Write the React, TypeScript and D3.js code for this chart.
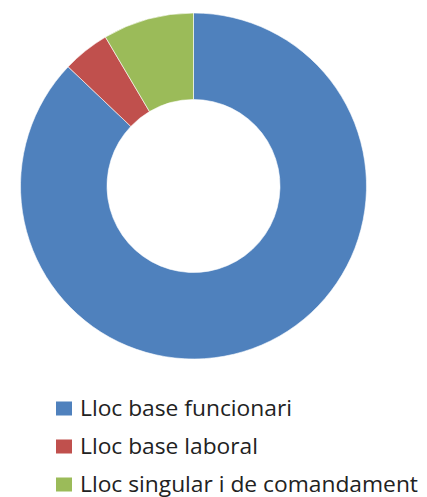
import { useEffect, useRef } from 'react';
import * as d3 from 'd3';

const categories = ['Lloc base funcionari', 'Lloc base laboral', 'Lloc singular i de comandament'];
const values = [87.1, 4.4, 8.5];
const colors = ['#4F81BD', '#C0504D', '#9BBB59'];
const labelWidths = [212, 178, 338];

function DonutChart() {
  const svgRef = useRef<SVGSVGElement>(null);

  useEffect(() => {
    const width = 427;
    const height = 497;
    const cx = 193.5;
    const cy = 186;
    const outer = 173;
    const inner = 86.5;

    const svg = d3.select(svgRef.current)
      .attr('width', width)
      .attr('height', height);

    svg.selectAll('*').remove();

    const pie = d3.pie<number>().sort(null).value(d => d);
    const arc = d3.arc<d3.PieArcDatum<number>>()
      .innerRadius(inner)
      .outerRadius(outer);

    svg.append('g')
      .attr('transform', `translate(${cx},${cy})`)
      .selectAll('path')
      .data(pie(values))
      .enter()
      .append('path')
      .attr('d', arc)
      .attr('fill', (_, i) => colors[i])
      .attr('stroke', '#fff')
      .attr('stroke-width', 0.6);

    const legend = svg.append('g');
    const rowY = d3.scaleLinear().domain([0, 1]).range([416, 454]);

    categories.forEach((name, i) => {
      const y = rowY(i);
      legend.append('rect')
        .attr('x', 56)
        .attr('y', y - 14.5)
        .attr('width', 16)
        .attr('height', 14)
        .attr('fill', colors[i]);
      legend.append('text')
        .attr('x', 80)
        .attr('y', y)
        .attr('font-family', '"Open Sans", sans-serif')
        .attr('font-size', 21)
        .attr('fill', '#222')
        .attr('textLength', labelWidths[i])
        .attr('lengthAdjust', 'spacingAndGlyphs')
        .text(name);
    });
  }, []);

  return <svg ref={svgRef} style={{ position: 'absolute', left: 0, top: 0 }}></svg>;
}

export default function App() {
  return <DonutChart />;
}
